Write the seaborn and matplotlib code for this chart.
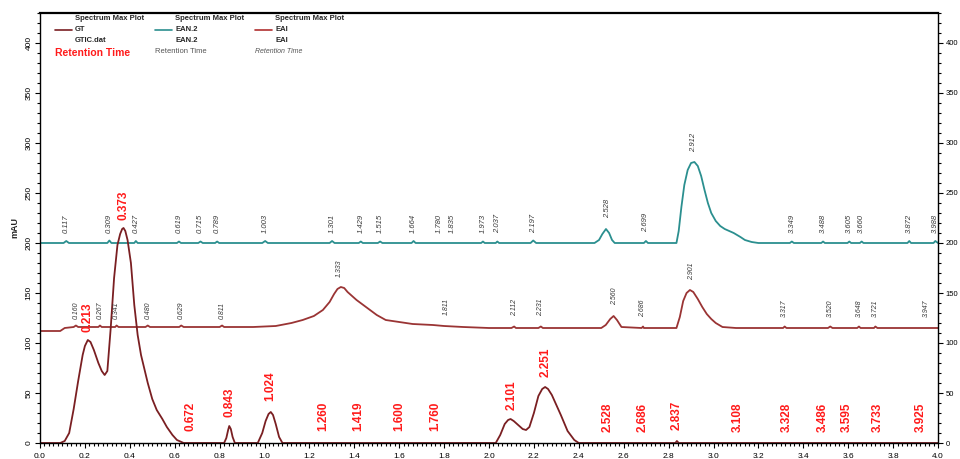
import matplotlib
matplotlib.use("Agg")
import matplotlib.pyplot as plt
import pandas as pd
import seaborn as sns
from matplotlib.ticker import MultipleLocator

# traces (retention time in min, signal in mAU)
gt_x = [0.00, 0.09, 0.11, 0.13, 0.15, 0.17, 0.19, 0.20, 0.213, 0.225, 0.24, 0.26, 0.275, 0.288, 0.30,
        0.315, 0.33, 0.345, 0.357, 0.366, 0.372, 0.38, 0.39, 0.405, 0.42, 0.435, 0.45, 0.465, 0.48,
        0.50, 0.52, 0.545, 0.565, 0.59, 0.61, 0.64,
        0.82, 0.83, 0.838, 0.843, 0.85, 0.858, 0.868, 0.97, 0.99, 1.005, 1.018, 1.028, 1.038, 1.05,
        1.065, 1.08,
        2.03, 2.05, 2.07, 2.085, 2.096, 2.11, 2.13, 2.15, 2.165, 2.18, 2.20, 2.22, 2.237, 2.25, 2.263,
        2.28, 2.30, 2.32, 2.35, 2.38, 2.40,
        2.83, 2.837, 2.845, 4.00]
gt_y = [0, 0, 2, 10, 34, 62, 88, 97, 103, 101, 93, 80, 72, 68, 72,
        115, 165, 198, 209, 214, 215, 212, 203, 180, 138, 108, 88, 74, 60,
        44, 33, 24, 16, 8, 3, 0,
        0, 5, 13, 17, 14, 6, 0, 0, 10, 22, 29, 31, 28, 19,
        6, 0,
        0, 8, 19, 23, 24, 22, 18, 14, 13, 16, 30, 47, 54, 56, 54,
        48, 38, 28, 12, 3, 0,
        0, 2, 0, 0]

eai_x = [0.00, 0.09, 0.11, 0.15, 0.16, 0.17, 0.26, 0.267, 0.275, 0.335, 0.341, 0.35, 0.47, 0.48, 0.49,
         0.62, 0.629, 0.64, 0.80, 0.811, 0.82, 0.95, 1.05, 1.12, 1.17, 1.22, 1.26, 1.29, 1.31, 1.325,
         1.34, 1.355, 1.37, 1.39, 1.41, 1.44, 1.47, 1.50, 1.54, 1.60, 1.66, 1.75, 1.80, 1.885, 2.00,
         2.10, 2.112, 2.12, 2.22, 2.231, 2.24,
         2.50, 2.52, 2.54, 2.555, 2.57, 2.59, 2.68, 2.686, 2.69, 2.835, 2.85, 2.865, 2.88, 2.895,
         2.91, 2.93, 2.95, 2.97, 2.99, 3.01, 3.04, 3.10, 3.31, 3.317, 3.325, 3.51, 3.52, 3.53,
         3.64, 3.648, 3.655, 3.715, 3.721, 3.73, 4.00]
eai_y = [112, 112, 115, 116, 117.5, 116, 116, 117.5, 116, 116, 117.5, 116, 116, 117.5, 116,
         116, 117.5, 116, 116, 117.5, 116, 116, 117, 120, 123, 127, 133, 141, 149, 154,
         156, 155, 151, 147, 143, 138, 133, 128, 123, 121, 119, 118, 117, 116, 115,
         115, 116.5, 115, 115, 116.5, 115,
         115, 118, 124, 127, 123, 116, 115, 116.5, 115, 115, 126, 142, 150, 153,
         151, 144, 136, 129, 124, 120, 116, 115, 115, 116.5, 115, 115, 116.5, 115,
         115, 116.5, 115, 115, 116.5, 115, 115]

ean_x = [0.00, 0.105, 0.117, 0.129, 0.30, 0.309, 0.318, 0.42, 0.427, 0.435, 0.61, 0.619, 0.628,
         0.705, 0.715, 0.725, 0.78, 0.789, 0.798, 0.99, 1.003, 1.015, 1.29, 1.301, 1.312,
         1.42, 1.429, 1.438, 1.505, 1.515, 1.525, 1.655, 1.664, 1.673, 1.965, 1.973, 1.981,
         2.03, 2.037, 2.045, 2.185, 2.197, 2.21, 2.47, 2.49, 2.505, 2.521, 2.535, 2.548, 2.56,
         2.69, 2.699, 2.708,
         2.835, 2.845, 2.857, 2.87, 2.885, 2.90, 2.915, 2.93, 2.945, 2.96, 2.975, 2.99, 3.01, 3.03,
         3.05, 3.07, 3.09, 3.12, 3.14, 3.17, 3.20,
         3.34, 3.349, 3.358, 3.48, 3.488, 3.496, 3.597, 3.605, 3.613, 3.652, 3.66, 3.668,
         3.864, 3.872, 3.88, 3.98, 3.988, 4.00]
ean_y = [200, 200, 202, 200, 200, 202.5, 200, 200, 202, 200, 200, 201.5, 200,
         200, 201.5, 200, 200, 201.5, 200, 200, 202, 200, 200, 202, 200,
         200, 201.5, 200, 200, 201.5, 200, 200, 202, 200, 200, 201.5, 200,
         200, 201.5, 200, 200, 202.5, 200, 200, 203, 209, 214, 210, 203, 200,
         200, 202, 200,
         200, 212, 236, 258, 273, 280, 281, 277, 267, 253, 240, 230, 222, 217,
         214, 212, 210, 206, 203, 201, 200,
         200, 201.5, 200, 200, 201.5, 200, 200, 201.5, 200, 200, 201.5, 200,
         200, 202, 200, 200, 202, 200]

# peak annotations
gt_labels = ["0.213", "0.373", "0.672", "0.843", "1.024", "1.260", "1.419", "1.600", "1.760", "2.101",
             "2.251", "2.528", "2.686", "2.837", "3.108", "3.328", "3.486", "3.595", "3.733", "3.925"]
gt_label_y = [111, 223, 12, 26, 42, 12, 12, 12, 12, 33, 66, 11, 11, 13, 11, 11, 11, 11, 11, 11]

ean_labels = ["0.117", "0.309", "0.427", "0.619", "0.715", "0.789", "1.003", "1.301", "1.429", "1.515",
              "1.664", "1.780", "1.835", "1.973", "2.037", "2.197", "2.528", "2.699", "2.912", "3.349",
              "3.488", "3.605", "3.660", "3.872", "3.988"]
ean_label_y = [210, 210, 210, 210, 210, 210, 210, 210, 210, 210, 210, 210, 210, 210, 210, 210,
               225, 211, 291, 210, 210, 210, 210, 210, 210]

eai_labels = ["0.160", "0.267", "0.341", "0.480", "0.629", "0.811", "1.333", "1.811", "2.112", "2.231",
              "2.560", "2.686", "2.901", "3.317", "3.520", "3.648", "3.721", "3.947"]
eai_label_y = [124, 124, 124, 124, 124, 124, 166, 128, 127, 127, 138, 126, 163, 126, 126, 126, 126, 126]

gt_color = "#7a1f22"
eai_color = "#9a3434"
ean_color = "#2b8f8f"

sns.set_style("ticks")
plt.rcParams["font.family"] = ["Liberation Sans", "DejaVu Sans"]

fig = plt.figure(figsize=(9.6, 4.59), dpi=100)
ax = fig.add_axes([40 / 960, 1 - 443 / 459, 898 / 960, 430 / 459])

traces = [(ean_x, ean_y, ean_color), (eai_x, eai_y, eai_color), (gt_x, gt_y, gt_color)]
for xs, ys, col in traces:
    d = pd.DataFrame({"t": xs, "v": ys})
    sns.lineplot(data=d, x="t", y="v", ax=ax, color=col, lw=1.3, sort=False, estimator=None)

for lab, yy in zip(gt_labels, gt_label_y):
    ax.text(float(lab), yy, lab, rotation=90, ha="center", va="bottom", color="#ff1a1a",
            fontsize=8.5, fontweight="bold")
for lab, yy in zip(ean_labels, ean_label_y):
    ax.text(float(lab), yy, lab, rotation=90, ha="center", va="bottom", color="#3a3a3a",
            fontsize=5.5, fontstyle="italic", clip_on=True)
for lab, yy in zip(eai_labels, eai_label_y):
    ax.text(float(lab), yy, lab, rotation=90, ha="center", va="bottom", color="#3a3a3a",
            fontsize=5, fontstyle="italic")

ax.set_xlim(0, 4.0)
ax.set_ylim(0, 430)
ax.xaxis.set_major_locator(MultipleLocator(0.2))
ax.xaxis.set_minor_locator(MultipleLocator(0.02))
ax.yaxis.set_major_locator(MultipleLocator(50))
ax.yaxis.set_minor_locator(MultipleLocator(10))
ax.xaxis.set_major_formatter(matplotlib.ticker.FormatStrFormatter("%.1f"))
ax.tick_params(which="both", direction="out", right=True, labelright=True, width=0.8, colors="black",
               labelsize=6)
ax.tick_params(which="major", length=3.5)
ax.tick_params(which="minor", length=2)
ax.tick_params(axis="x", which="both", top=False)
ax.tick_params(axis="y", which="major", pad=2)
fig.canvas.draw()
for tk in ax.yaxis.get_major_ticks():
    tk.label1.set_rotation(90)
    tk.label1.set_va("center")
    tk.label2.set_rotation(0)
    tk.label2.set_fontsize(5.5)
ax.set_xlabel("")
ax.set_ylabel("mAU", fontsize=6.5, fontweight="bold", labelpad=4)
for s in ax.spines.values():
    s.set_linewidth(1.0)
    s.set_color("black")
ax.spines["top"].set_linewidth(1.6)

# legend block drawn as text, like the instrument software does
def fx(px):
    return (px - 40) / 898

def fy(py):
    return (443 - py) / 430

cols = [(55, "GT", "GTIC.dat", gt_color), (155, "EAN.2", "EAN.2", ean_color), (255, "EAI", "EAI", "#b03030")]
for px, n1, n2, col in cols:
    ax.text(fx(px + 20), fy(19), "Spectrum Max Plot", transform=ax.transAxes, fontsize=5.5,
            fontweight="bold", va="center")
    ax.plot([fx(px), fx(px + 17)], [fy(30), fy(30)], transform=ax.transAxes, color=col, lw=1.2)
    ax.text(fx(px + 20), fy(30), n1, transform=ax.transAxes, fontsize=5.5, fontweight="bold", va="center")
    ax.text(fx(px + 20), fy(41), n2, transform=ax.transAxes, fontsize=5.5, fontweight="bold", va="center")
ax.text(fx(55), fy(53), "Retention Time", transform=ax.transAxes, fontsize=7.5, fontweight="bold",
        color="#ff1a1a", va="center")
ax.text(fx(155), fy(52), "Retention Time", transform=ax.transAxes, fontsize=5.5, color="#555555", va="center")
ax.text(fx(255), fy(52), "Retention Time", transform=ax.transAxes, fontsize=5, color="#555555",
        fontstyle="italic", va="center")

fig.savefig("out.png", dpi=100)
